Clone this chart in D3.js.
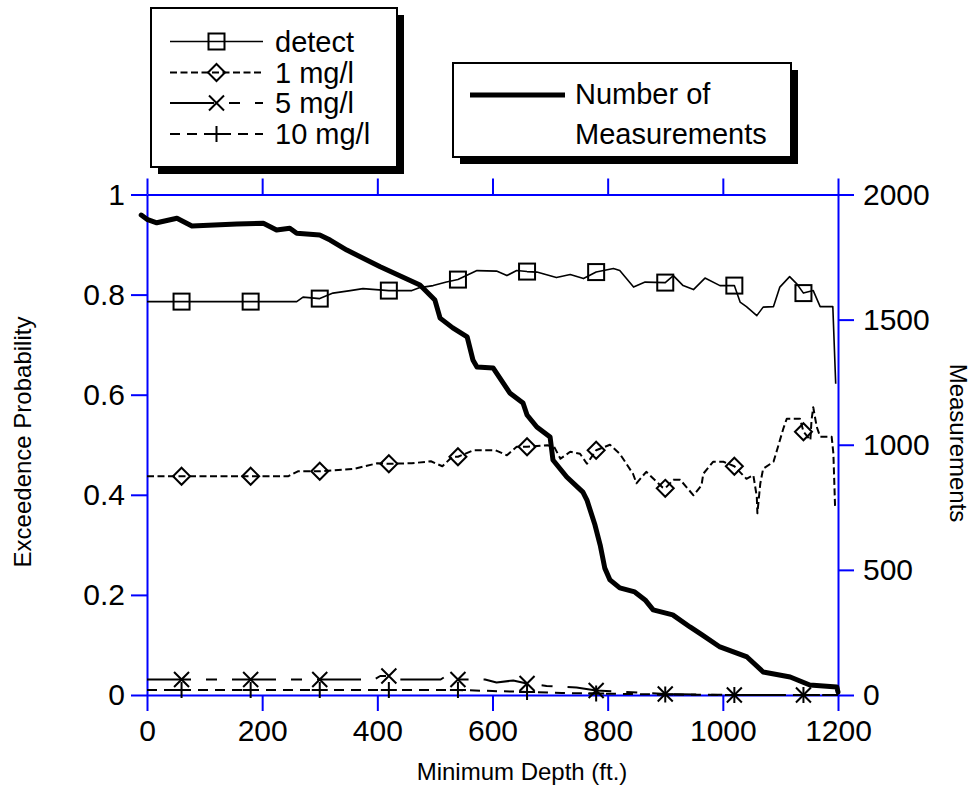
<!DOCTYPE html>
<html><head><meta charset="utf-8">
<script src="https://cdn.jsdelivr.net/npm/d3@7"></script>
<style>
html,body{margin:0;padding:0;background:#fff;}
svg text{font-family:"Liberation Sans",Arial,Helvetica,sans-serif;}
</style></head><body>
<svg id="chart" width="973" height="786"></svg>
<script>
// ---------- data ----------
const depthTicks = [0, 200, 400, 600, 800, 1000, 1200];
const probTicks  = [0, 0.2, 0.4, 0.6, 0.8, 1];
const measTicks  = [0, 500, 1000, 1500, 2000];
const markerDepths = [60, 180, 300, 420, 540, 660, 780, 900, 1020, 1140];
const seriesNames = ["detect", "1 mg/l", "5 mg/l", "10 mg/l"];
const measLegend = ["Number of", "Measurements"];

const detectDepth = [0,60,180,260,271,300,323,353,375,420,460,474,497,520,540,573,607,625,642,660,677,711,735,758,780,810,821,845,865,900,914,931,949,969,995,1020,1030,1041,1059,1070,1088,1099,1116,1128,1140,1157,1169,1191,1196];
const detectProb  = [0.786,0.786,0.786,0.786,0.795,0.792,0.803,0.808,0.812,0.808,0.808,0.814,0.818,0.825,0.830,0.848,0.847,0.838,0.848,0.846,0.845,0.834,0.840,0.832,0.845,0.852,0.848,0.815,0.825,0.824,0.838,0.818,0.810,0.833,0.818,0.818,0.785,0.776,0.758,0.775,0.776,0.815,0.836,0.822,0.803,0.808,0.776,0.776,0.622];

const oneDepth = [0,60,180,245,262,300,360,400,420,460,493,513,530,540,567,605,625,642,660,695,707,718,735,752,764,780,804,821,844,850,867,895,900,914,926,949,963,966,983,1001,1020,1041,1053,1059,1060,1065,1070,1088,1094,1105,1111,1134,1140,1152,1154,1157,1163,1169,1189,1192,1195];
const oneProb  = [0.437,0.437,0.437,0.437,0.447,0.447,0.452,0.463,0.462,0.463,0.467,0.457,0.476,0.476,0.489,0.489,0.479,0.496,0.496,0.499,0.496,0.472,0.486,0.482,0.462,0.489,0.500,0.482,0.442,0.423,0.446,0.415,0.413,0.430,0.430,0.399,0.419,0.442,0.466,0.466,0.457,0.432,0.439,0.396,0.363,0.422,0.452,0.466,0.489,0.532,0.552,0.552,0.526,0.509,0.549,0.575,0.536,0.516,0.516,0.482,0.373];

const fiveDepth = [0,60,180,300,395,405,420,435,510,518,526,540,587,607,636,660,694,746,780,820,900,1020,1140,1200];
const fiveProb  = [0.031,0.031,0.031,0.031,0.031,0.038,0.038,0.031,0.031,0.037,0.031,0.031,0.031,0.025,0.029,0.023,0.018,0.015,0.009,0.007,0.002,0,0,0];

const tenDepth = [0,60,180,300,420,540,600,660,720,780,900,1020,1140,1200];
const tenProb  = [0.010,0.010,0.010,0.010,0.010,0.010,0.008,0.006,0.004,0.003,0.001,0,0,0];

const measDepth = [-10,0,17,52,78,156,202,225,248,260,300,318,347,405,474,500,509,531,556,566,573,601,630,653,660,677,700,705,729,757,764,778,787,795,804,821,847,865,879,913,943,964,995,1042,1070,1117,1151,1198,1200];
const measCount = [1918,1901,1887,1905,1874,1882,1885,1858,1865,1845,1838,1818,1778,1711,1638,1578,1506,1467,1431,1339,1311,1307,1207,1167,1119,1071,1031,939,871,811,779,679,599,507,460,428,412,380,340,320,272,240,192,152,92,72,40,32,12];

// ---------- setup ----------
const BLUE = "#0000ff";
const svg = d3.select("#chart");
const x  = d3.scaleLinear().domain([0, 1200]).range([147, 838]);
const yL = d3.scaleLinear().domain([0, 1]).range([695, 194.5]);
const yR = d3.scaleLinear().domain([0, 2000]).range([695, 194.5]);

function styleAxis(g, fs) {
  g.selectAll("path, line").attr("stroke", BLUE).attr("stroke-width", 2);
  g.selectAll("text").attr("font-size", fs).attr("fill", "#000")
   .attr("font-family", '"Liberation Sans", Arial, sans-serif');
}
const fmt = d => String(d);
styleAxis(svg.append("g").attr("transform", "translate(0,695)")
  .call(d3.axisBottom(x).tickValues(depthTicks).tickSize(16).tickSizeOuter(0).tickPadding(9).tickFormat(fmt)), 30);
styleAxis(svg.append("g").attr("transform", "translate(0,194.5)")
  .call(d3.axisTop(x).tickValues(depthTicks).tickSize(16).tickSizeOuter(0).tickFormat("")), 30);
styleAxis(svg.append("g").attr("transform", "translate(147,0)")
  .call(d3.axisLeft(yL).tickValues(probTicks).tickSize(16).tickSizeOuter(0).tickPadding(6).tickFormat(fmt)), 30);
styleAxis(svg.append("g").attr("transform", "translate(838,0)")
  .call(d3.axisRight(yR).tickValues(measTicks).tickSize(16).tickSizeOuter(0).tickPadding(9).tickFormat(fmt)), 30);

// axis titles
svg.append("text").attr("x", 522).attr("y", 780).attr("text-anchor", "middle")
  .attr("font-size", 24).text("Minimum Depth (ft.)");
svg.append("text").attr("transform", "translate(31,442) rotate(-90)").attr("text-anchor", "middle")
  .attr("font-size", 24).text("Exceedence Probability");
svg.append("text").attr("transform", "translate(950,443) rotate(90)").attr("text-anchor", "middle")
  .attr("font-size", 24).text("Measurements");

// ---------- markers ----------
function drawMarker(g, type, cx, cy) {
  const s = g.append("g").attr("transform", `translate(${cx},${cy})`)
    .attr("stroke", "#000").attr("stroke-width", 2).attr("fill", "none");
  if (type === "square") s.append("rect").attr("x", -8).attr("y", -8).attr("width", 16).attr("height", 16);
  else if (type === "diamond") s.append("path").attr("d", "M0,-8.5L8.5,0L0,8.5L-8.5,0Z");
  else if (type === "x") s.append("path").attr("d", "M-7.5,-7.5L7.5,7.5M-7.5,7.5L7.5,-7.5");
  else if (type === "plus") s.append("path").attr("d", "M-8,0L8,0M0,-8L0,8");
}

const series = [
  {name: seriesNames[0], d: detectDepth, v: detectProb, dash: null, w: 1.6, m: "square"},
  {name: seriesNames[1], d: oneDepth, v: oneProb, dash: "7,3.5", w: 2, m: "diamond"},
  {name: seriesNames[2], d: fiveDepth, v: fiveProb, dash: "44,15,11,15", w: 2, m: "x"},
  {name: seriesNames[3], d: tenDepth, v: tenProb, dash: "10,7", w: 2, m: "plus"}
];

const line = d3.line().x(p => x(p[0])).y(p => yL(p[1]));
const plot = svg.append("g");
series.forEach(s => {
  const pts = s.d.map((d, i) => [d, s.v[i]]);
  plot.append("path").datum(pts).attr("d", line).attr("fill", "none")
    .attr("stroke", "#000").attr("stroke-width", s.w)
    .attr("stroke-dasharray", s.dash).attr("stroke-linejoin", "round");
  pts.filter(p => markerDepths.includes(p[0])).forEach(p => drawMarker(plot, s.m, x(p[0]), yL(p[1])));
});

const measLine = d3.line().x((d, i) => x(d)).y((d, i) => yR(measCount[i]));
plot.append("path").datum(measDepth).attr("d", measLine).attr("fill", "none")
  .attr("stroke", "#000").attr("stroke-width", 5).attr("stroke-linejoin", "round").attr("stroke-linecap", "round");

// ---------- legends ----------
function box(x0, y0, w, h) {
  svg.append("rect").attr("x", x0 + 7).attr("y", y0 + 7).attr("width", w).attr("height", h).attr("fill", "#000");
  svg.append("rect").attr("x", x0).attr("y", y0).attr("width", w).attr("height", h)
    .attr("fill", "#fff").attr("stroke", "#000").attr("stroke-width", 2);
}
box(151, 8, 246, 159);
const leg = svg.append("g");
const rowY = [41.5, 72.5, 103, 134];
series.forEach((s, i) => {
  leg.append("line").attr("x1", 170).attr("x2", 263).attr("y1", rowY[i]).attr("y2", rowY[i])
    .attr("stroke", "#000").attr("stroke-width", s.w).attr("stroke-dasharray", s.dash);
  drawMarker(leg, s.m, 216.5, rowY[i]);
  leg.append("text").attr("x", 275).attr("y", rowY[i]).attr("dy", "0.36em")
    .attr("font-size", 29).text(s.name);
});

box(453, 63, 338, 94);
svg.append("line").attr("x1", 470).attr("x2", 565).attr("y1", 95).attr("y2", 95)
  .attr("stroke", "#000").attr("stroke-width", 5);
measLegend.forEach((t, i) => {
  svg.append("text").attr("x", 575).attr("y", 94 + i * 40).attr("dy", "0.36em")
    .attr("font-size", 29).text(t);
});
</script>
</body></html>
